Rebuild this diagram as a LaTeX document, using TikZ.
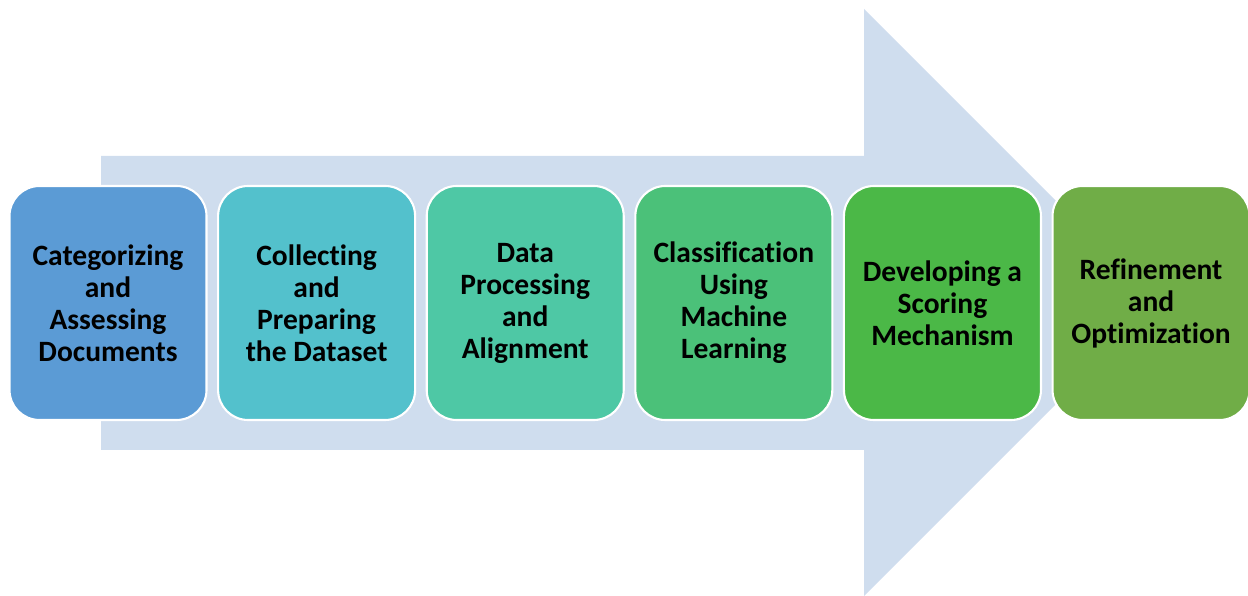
\documentclass[tikz,border=0pt]{standalone}
\usepackage{fontspec}
\setmainfont{Carlito}[Ligatures=NoCommon]
\usepackage{tikz}
\usetikzlibrary{positioning, shapes.geometric}
\definecolor{arrow_bg}{HTML}{CFDDEE}
\definecolor{stage_blue}{HTML}{5B9BD5}
\definecolor{stage_cyan}{HTML}{53C1CC}
\definecolor{stage_teal}{HTML}{4EC8A5}
\definecolor{stage_mint}{HTML}{4BC179}
\definecolor{stage_green}{HTML}{4BB847}
\definecolor{stage_olive}{HTML}{70AD47}
\tikzstyle{stage} = [rectangle, rounded corners=0.6cm, draw=white, line width=1.2pt, minimum width=3.94cm, minimum height=4.68cm, align=center, font=\fontsize{16.8}{18.2}\selectfont\bfseries, text=black]

\begin{document}
\begin{tikzpicture}
        \useasboundingbox (0,0) rectangle (24.96,11.92);
        % big background arrow
        \fill[arrow_bg] (2.02,2.92) -- (17.28,2.92) -- (17.28,0) -- (23.15,5.87) -- (17.28,11.74) -- (17.28,8.8) -- (2.02,8.8) -- cycle;
        \node (cat) [stage, fill=stage_blue] at (2.16,5.86) {Categorizing\\and\\Assessing\\Documents};
        \node (col) [stage, fill=stage_cyan, right=0.19cm of cat] {Collecting\\and\\Preparing\\the Dataset};
        \node (proc) [stage, fill=stage_teal, right=0.19cm of col] {Data\\Processing\\and\\Alignment};
        \node (cls) [stage, fill=stage_mint, right=0.19cm of proc] {Classification\\Using\\Machine\\Learning};
        \node (score) [stage, fill=stage_green, right=0.19cm of cls] {Developing a\\Scoring\\Mechanism};
        \node (refine) [stage, fill=stage_olive, right=0.19cm of score] {Refinement\\and\\Optimization};
    \end{tikzpicture}
\end{document}
